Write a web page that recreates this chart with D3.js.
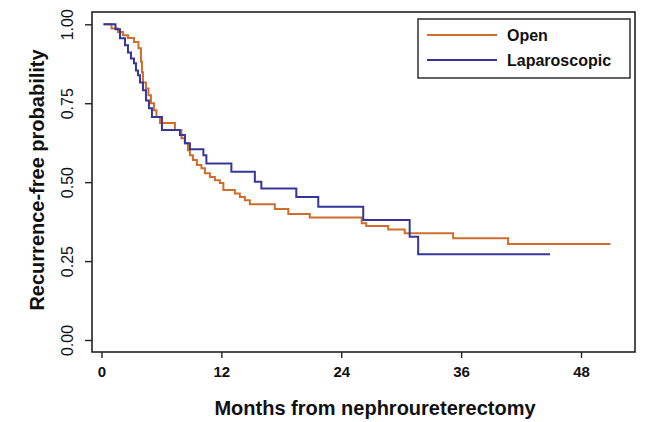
<!DOCTYPE html>
<html>
<head>
<meta charset="utf-8">
<script src="https://cdn.jsdelivr.net/npm/d3@7"></script>
<style>
body { margin: 0; background: #fff; }
text { font-family: "Liberation Sans", Arial, sans-serif; fill: #111; }
</style>
</head>
<body>
<script>
// Kaplan-Meier step data (months, recurrence-free probability)
const openTimes = [0.2, 1.0, 1.65, 2.15, 2.65, 3.25, 3.7, 3.95, 4.05, 4.15, 4.45, 4.7, 4.95, 5.25, 5.5, 5.85,
  7.35, 8.0, 8.35, 8.65, 8.85, 9.15, 9.55, 10.0, 10.35, 10.85, 11.35, 11.85, 12.2, 13.35, 13.85, 14.35,
  14.85, 17.35, 18.7, 20.85, 26.05, 26.5, 28.7, 30.35, 35.2, 40.7, 50.95];
const openSurv = [1.0, 0.987, 0.976, 0.965, 0.957, 0.944, 0.924, 0.881, 0.848, 0.816, 0.797, 0.775, 0.75, 0.728, 0.706, 0.687,
  0.665, 0.639, 0.623, 0.601, 0.585, 0.57, 0.554, 0.544, 0.528, 0.516, 0.506, 0.497, 0.475, 0.464, 0.453, 0.443,
  0.43, 0.415, 0.399, 0.388, 0.37, 0.361, 0.35, 0.338, 0.322, 0.304, 0.304];

const lapTimes = [0.2, 1.4, 1.85, 2.35, 2.65, 2.95, 3.25, 3.45, 3.65, 3.85, 4.15, 4.45, 4.75, 5.05, 6.05,
  7.85, 8.35, 8.85, 10.2, 10.5, 13.0, 15.35, 16.0, 19.5, 21.7, 26.2, 30.85, 31.7, 44.9];
const lapSurv = [1.0, 0.984, 0.956, 0.934, 0.911, 0.892, 0.877, 0.854, 0.839, 0.816, 0.791, 0.759, 0.734, 0.706, 0.665,
  0.649, 0.623, 0.604, 0.585, 0.559, 0.533, 0.501, 0.48, 0.453, 0.422, 0.38, 0.327, 0.272, 0.272];

const xTicks = [0, 12, 24, 36, 48];
const yTicks = [0, 0.25, 0.5, 0.75, 1];
const yTickLabels = ["0.00", "0.25", "0.50", "0.75", "1.00"];
const seriesNames = ["Open", "Laparoscopic"];
const seriesColors = ["#cf6d2c", "#36369a"];

const W = 649, H = 422;
const box = {left: 92, right: 635, top: 12, bottom: 352};

const svg = d3.select("body").append("svg")
  .attr("width", W)
  .attr("height", H);

const x = d3.scaleLinear().domain([0, 48]).range([101.5, 581]);
const y = d3.scaleLinear().domain([0, 1]).range([340, 24.3]);

// curves
const series = [
  openTimes.map((t, i) => ({t: t, s: openSurv[i]})),
  lapTimes.map((t, i) => ({t: t, s: lapSurv[i]}))
];

const line = d3.line()
  .x(d => x(d.t))
  .y(d => y(d.s))
  .curve(d3.curveStepAfter);

svg.selectAll("path.km")
  .data(series)
  .enter()
  .append("path")
  .attr("class", "km")
  .attr("d", line)
  .attr("fill", "none")
  .attr("stroke", (d, i) => seriesColors[i])
  .attr("stroke-width", 2);

// plot frame
svg.append("rect")
  .attr("x", box.left)
  .attr("y", box.top)
  .attr("width", box.right - box.left)
  .attr("height", box.bottom - box.top)
  .attr("fill", "none")
  .attr("stroke", "#222")
  .attr("stroke-width", 1.6);

// x axis
const xAxis = svg.append("g")
  .attr("transform", "translate(0," + box.bottom + ")")
  .call(d3.axisBottom(x).tickValues(xTicks).tickSize(6).tickPadding(8));
xAxis.select(".domain").remove();
xAxis.selectAll("line").attr("stroke", "#222").attr("stroke-width", 1.4);
xAxis.selectAll("text")
  .style("font-family", "Liberation Sans, Arial, sans-serif")
  .style("font-size", "15px")
  .style("font-weight", "bold")
  .attr("fill", "#111");

// y axis (R style, rotated labels)
const yAxis = svg.append("g")
  .attr("transform", "translate(" + box.left + ",0)")
  .call(d3.axisLeft(y).tickValues(yTicks).tickSize(7).tickFormat((d, i) => yTickLabels[i]));
yAxis.select(".domain").remove();
yAxis.selectAll("line").attr("stroke", "#222").attr("stroke-width", 1.4);
yAxis.selectAll("text")
  .attr("x", null)
  .attr("dy", null)
  .attr("text-anchor", "middle")
  .attr("transform", "translate(-19,0) rotate(-90)")
  .style("font-family", "Liberation Sans, Arial, sans-serif")
  .style("font-size", "16px")
  .attr("fill", "#111");

// axis titles
svg.append("text")
  .attr("x", 375)
  .attr("y", 415)
  .attr("text-anchor", "middle")
  .style("font-size", "20px")
  .style("font-weight", "bold")
  .text("Months from nephroureterectomy");

svg.append("text")
  .attr("transform", "translate(44,180) rotate(-90)")
  .attr("text-anchor", "middle")
  .style("font-size", "20px")
  .style("font-weight", "bold")
  .text("Recurrence-free probability");

// legend
const lg = svg.append("g");
lg.append("rect")
  .attr("x", 418).attr("y", 19)
  .attr("width", 212).attr("height", 59)
  .attr("fill", "#fff")
  .attr("stroke", "#222")
  .attr("stroke-width", 1.4);

seriesNames.forEach((name, i) => {
  lg.append("line")
    .attr("x1", 427).attr("x2", 497)
    .attr("y1", 35 + i * 25).attr("y2", 35 + i * 25)
    .attr("stroke", seriesColors[i])
    .attr("stroke-width", 2);
  lg.append("text")
    .attr("x", 507)
    .attr("y", 41 + i * 25)
    .style("font-size", "16px")
    .style("font-weight", "bold")
    .text(name);
});
</script>
</body>
</html>
